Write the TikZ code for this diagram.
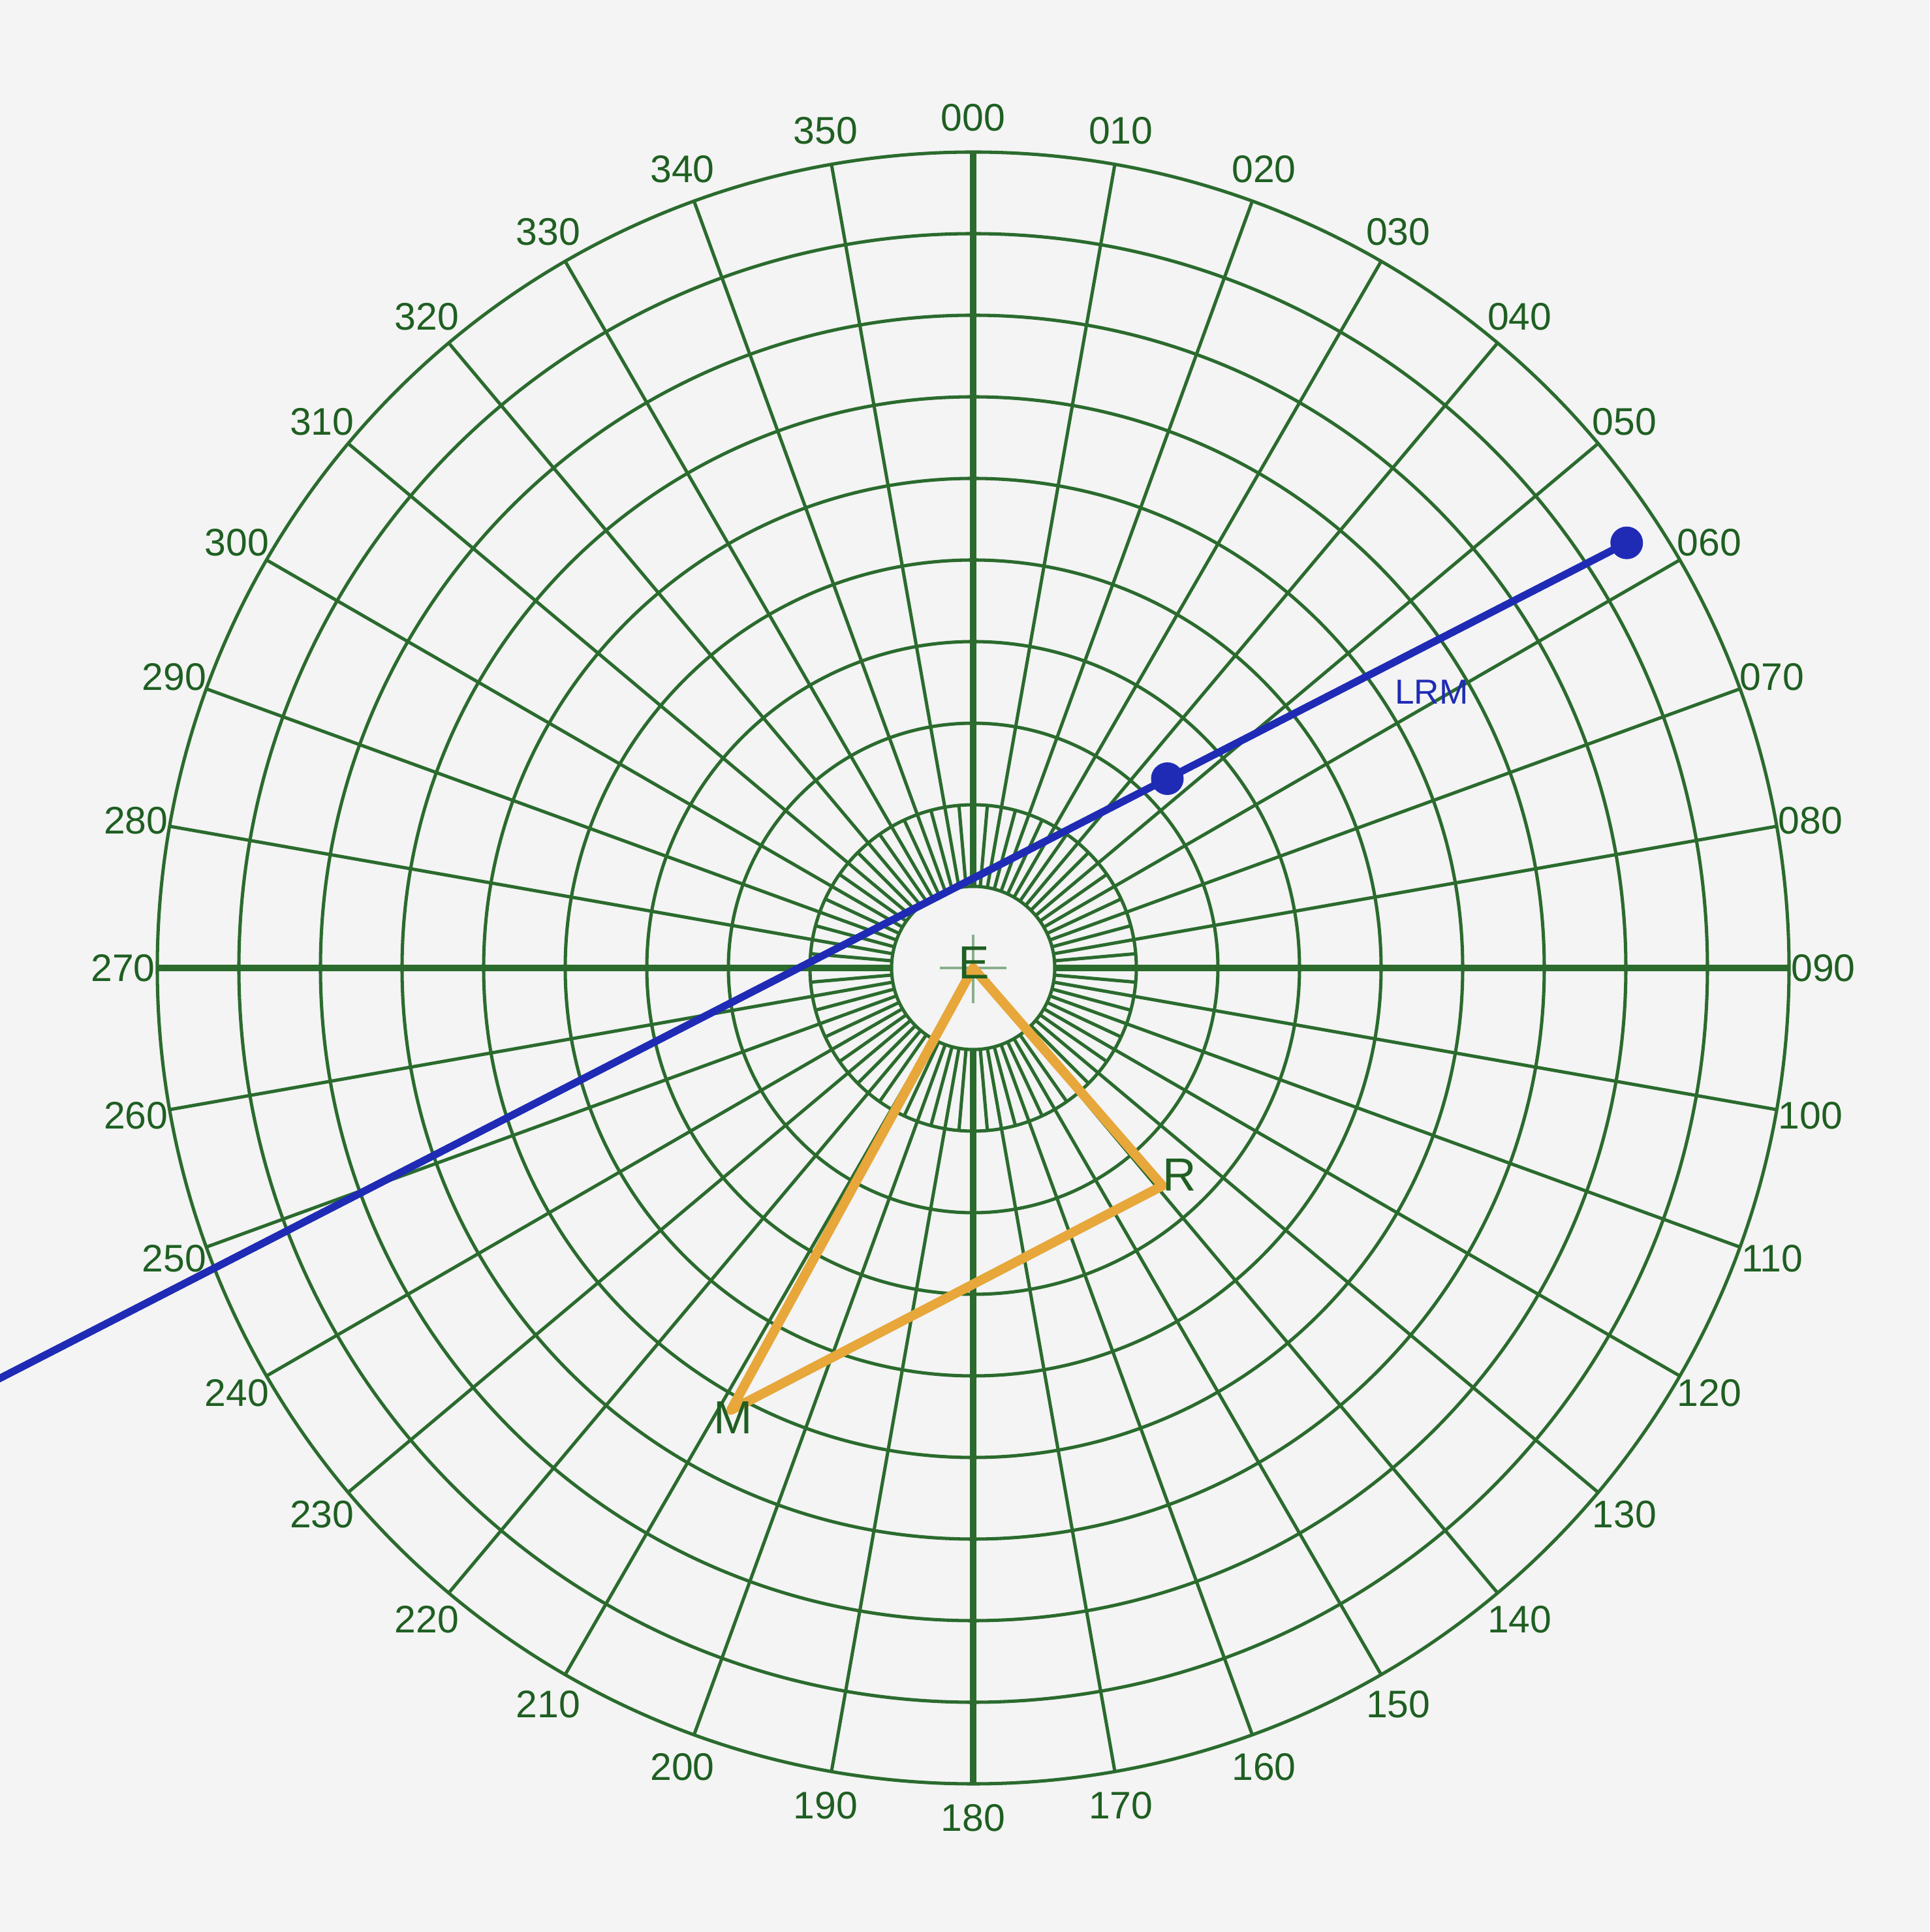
\documentclass[tikz,border=0pt]{standalone}
\usepackage{fontspec}
\setmainfont{Liberation Sans}
\definecolor{bg}{HTML}{F3F4F3}
\definecolor{gridc}{HTML}{2B6B2E}
\definecolor{txtc}{HTML}{1F5F22}
\definecolor{lrmc}{HTML}{1F2BB5}
\definecolor{tric}{HTML}{E7A73A}
\begin{document}
\begin{tikzpicture}[x=1cm,y=1cm,
  gridline/.style={draw=gridc, line width=1.15pt},
  axisline/.style={draw=gridc, line width=2.4pt},
  crossline/.style={draw=gridc!55, line width=1pt},
  bearing/.style={text=txtc, font=\fontsize{13.4}{14}\selectfont, inner sep=0pt},
  ptlabel/.style={text=txtc, font=\fontsize{16.2}{17}\selectfont, inner sep=0pt},
  lrmlabel/.style={text=lrmc, font=\fontsize{12.1}{13}\selectfont, inner sep=0pt},
  lrmline/.style={draw=lrmc, line width=2.6pt},
  triline/.style={draw=tric, line width=3.3pt, line join=round},
  dotmark/.style={circle, fill=lrmc, inner sep=0pt, minimum size=0.4cm}
]
\fill[bg] (-11.928,-11.816) rectangle (11.72,11.864);
\useasboundingbox (-11.928,-11.816) rectangle (11.72,11.864);

% rings
\foreach \r in {1,...,10} \draw[gridline] (0,0) circle (\r);
% spokes every 10 degrees
\foreach \q in {0,90,180,270}
  \foreach \k in {10,20,...,80}
    \draw[gridline] ({90-\q-\k}:1) -- ({90-\q-\k}:10);
% short spokes at the odd 5 degrees, between rings 1 and 2
\foreach \k in {5,15,...,355}
  \draw[gridline] ({90-\k}:1) -- ({90-\k}:2);
% axes
\draw[axisline] (0,1) -- (0,10);
\draw[axisline] (0,-1) -- (0,-10);
\draw[axisline] (1,0) -- (10,0);
\draw[axisline] (-1,0) -- (-10,0);
% centre cross
\draw[crossline] (-0.41,0) -- (0.41,0);
\draw[crossline] (0,-0.43) -- (0,0.41);

% bearing labels
\foreach \b/\t in {0/000,10/010,20/020,30/030,40/040,50/050,60/060,70/070,80/080,
  90/090,100/100,110/110,120/120,130/130,140/140,150/150,160/160,170/170,180/180,
  190/190,200/200,210/210,220/220,230/230,240/240,250/250,260/260,270/270,280/280,
  290/290,300/300,310/310,320/320,330/330,340/340,350/350}
  \node[bearing] (brg\b) at ({90-\b}:10.42) {\t};

% relative motion line
\coordinate (E) at (0,0);
\coordinate (Rv) at (2.32,-2.67);
\coordinate (Mv) at (-2.97,-5.42);
\coordinate (Lend) at (-11.95,-5.04);
\node[dotmark] (P1) at (2.38,2.32) {};
\node[dotmark] (P2) at (8.01,5.21) {};
\draw[lrmline] (Lend) -- (P1.center) -- (P2.center);
\node[lrmlabel] (lrm) at (5.62,3.38) {LRM};

% triangle
\draw[triline] (E) -- (Rv) -- (Mv) -- cycle;

% point labels
\node[ptlabel] (Elab) at (0.01,0.06) {E};
\node[ptlabel] (Rlab) at (2.53,-2.54) {R};
\node[ptlabel] (Mlab) at (-2.94,-5.51) {M};
\end{tikzpicture}
\end{document}
